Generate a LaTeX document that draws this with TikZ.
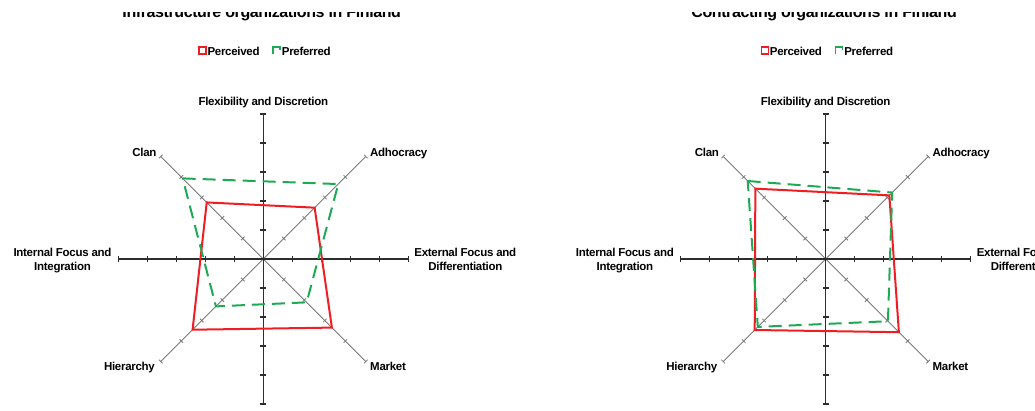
\documentclass[tikz,border=0pt]{standalone}
\usepackage{fontspec}
\newfontfamily\lblfont{Liberation Sans Bold}[LetterSpace=-2.5]
\definecolor{percred}{RGB}{240,30,35}
\definecolor{prefgreen}{RGB}{30,170,85}
\definecolor{axisdark}{RGB}{45,45,45}
\definecolor{axisgray}{RGB}{120,120,120}
\tikzset{
  lbl/.style={font=\lblfont\fontsize{11.5}{13}\selectfont, inner sep=0pt, anchor=base},
  ttl/.style={font=\lblfont\fontsize{16}{18}\selectfont, inner sep=0pt, anchor=base},
  mainaxis/.style={draw=axisdark, line width=1.1pt},
  diagaxis/.style={draw=axisgray, line width=0.8pt},
  perc/.style={draw=percred, line width=2pt, line join=miter},
  pref/.style={draw=prefgreen, line width=2pt, dash pattern=on 13pt off 7pt},
  percmark/.style={draw=percred, line width=1.8pt},
  prefmark/.style={draw=prefgreen, line width=1.8pt},
}
\newcommand\radarchart[4]{%
  \coordinate (#1c) at (#2,#3);
  \begin{scope}[shift={(#1c)}]
    \coordinate (#1N) at (0,145);
    \coordinate (#1S) at (0,-145);
    \coordinate (#1E) at (145,0);
    \coordinate (#1W) at (-145,0);
    \coordinate (#1NE) at (45:145);
    \coordinate (#1NW) at (135:145);
    \coordinate (#1SE) at (-45:145);
    \coordinate (#1SW) at (-135:145);
    \draw[diagaxis] (#1NW) -- (#1SE);
    \draw[diagaxis] (#1SW) -- (#1NE);
    \foreach \r in {45,-45} {
      \begin{scope}[rotate=\r]
        \foreach \i in {1,...,5} {
          \draw[diagaxis] (\i*29,-2.5) -- (\i*29,2.5);
          \draw[diagaxis] (-\i*29,-2.5) -- (-\i*29,2.5);
        }
      \end{scope}
    }
    \draw[mainaxis] (#1W) -- (#1E);
    \draw[mainaxis] (#1S) -- (#1N);
    \foreach \i in {1,...,5} {
      \draw[mainaxis] (\i*29,-3) -- (\i*29,3);
      \draw[mainaxis] (-\i*29,-3) -- (-\i*29,3);
      \draw[mainaxis] (-3,\i*29) -- (3,\i*29);
      \draw[mainaxis] (-3,-\i*29) -- (3,-\i*29);
    }
    \node[lbl] (#1flex) at (0,153.3) {Flexibility and Discretion};
    \node[lbl, anchor=base east] (#1clan) at (-106.6,102.3) {Clan};
    \node[lbl, anchor=base west] (#1adh) at (106.7,102.3) {Adhocracy};
    \node[lbl, anchor=base east] (#1hier) at (-108.3,-111) {Hierarchy};
    \node[lbl, anchor=base west] (#1mkt) at (106.7,-111) {Market};
    \node[lbl] (#1inta) at (-200.8,2.3) {Internal Focus and};
    \node[lbl] (#1intb) at (-200.8,-11) {Integration};
    \node[lbl] (#1exta) at (202,2.3) {External Focus and};
    \node[lbl] (#1extb) at (202,-11) {Differentiation};
    \node[ttl] (#1title) at (-1.6,241.5) {#4};
    \draw[percmark] (-64.3,205) rectangle (-57.3,212.3);
    \node[lbl, anchor=base west] (#1legp) at (-56,204) {Perceived};
    \draw[prefmark] (9.7,204.7) -- (9.7,211.7) -- (16.7,211.7) -- (16.7,209);
    \node[lbl, anchor=base west] (#1legq) at (18.4,204) {Preferred};
  \end{scope}
}
\begin{document}
\begin{tikzpicture}[x=1pt,y=1pt]
  \useasboundingbox (0,-410) rectangle (1035,0);
  \radarchart{L}{263.3}{-259}{Infrastructure organizations in Finland}
  \radarchart{R}{825.7}{-259}{Contracting organizations in Finland}
  % Infrastructure organizations
  \begin{scope}[shift={(Lc)}]
    \draw[perc] (135:80) -- (45:72.6) -- (-45:97) -- (-135:100) -- cycle;
    \draw[pref] (135:114) -- (45:106) -- (-45:61.3) -- (-135:67) -- cycle;
  \end{scope}
  % Contracting organizations
  \begin{scope}[shift={(Rc)}]
    \draw[perc] (135:99.5) -- (45:90) -- (-45:103.5) -- (-135:100.4) -- cycle;
    \draw[pref] (135:110.3) -- (45:94) -- (-45:88) -- (-135:96) -- cycle;
  \end{scope}
  \fill[white] (0,0) rectangle (1035,-11.7);
\end{tikzpicture}
\end{document}
